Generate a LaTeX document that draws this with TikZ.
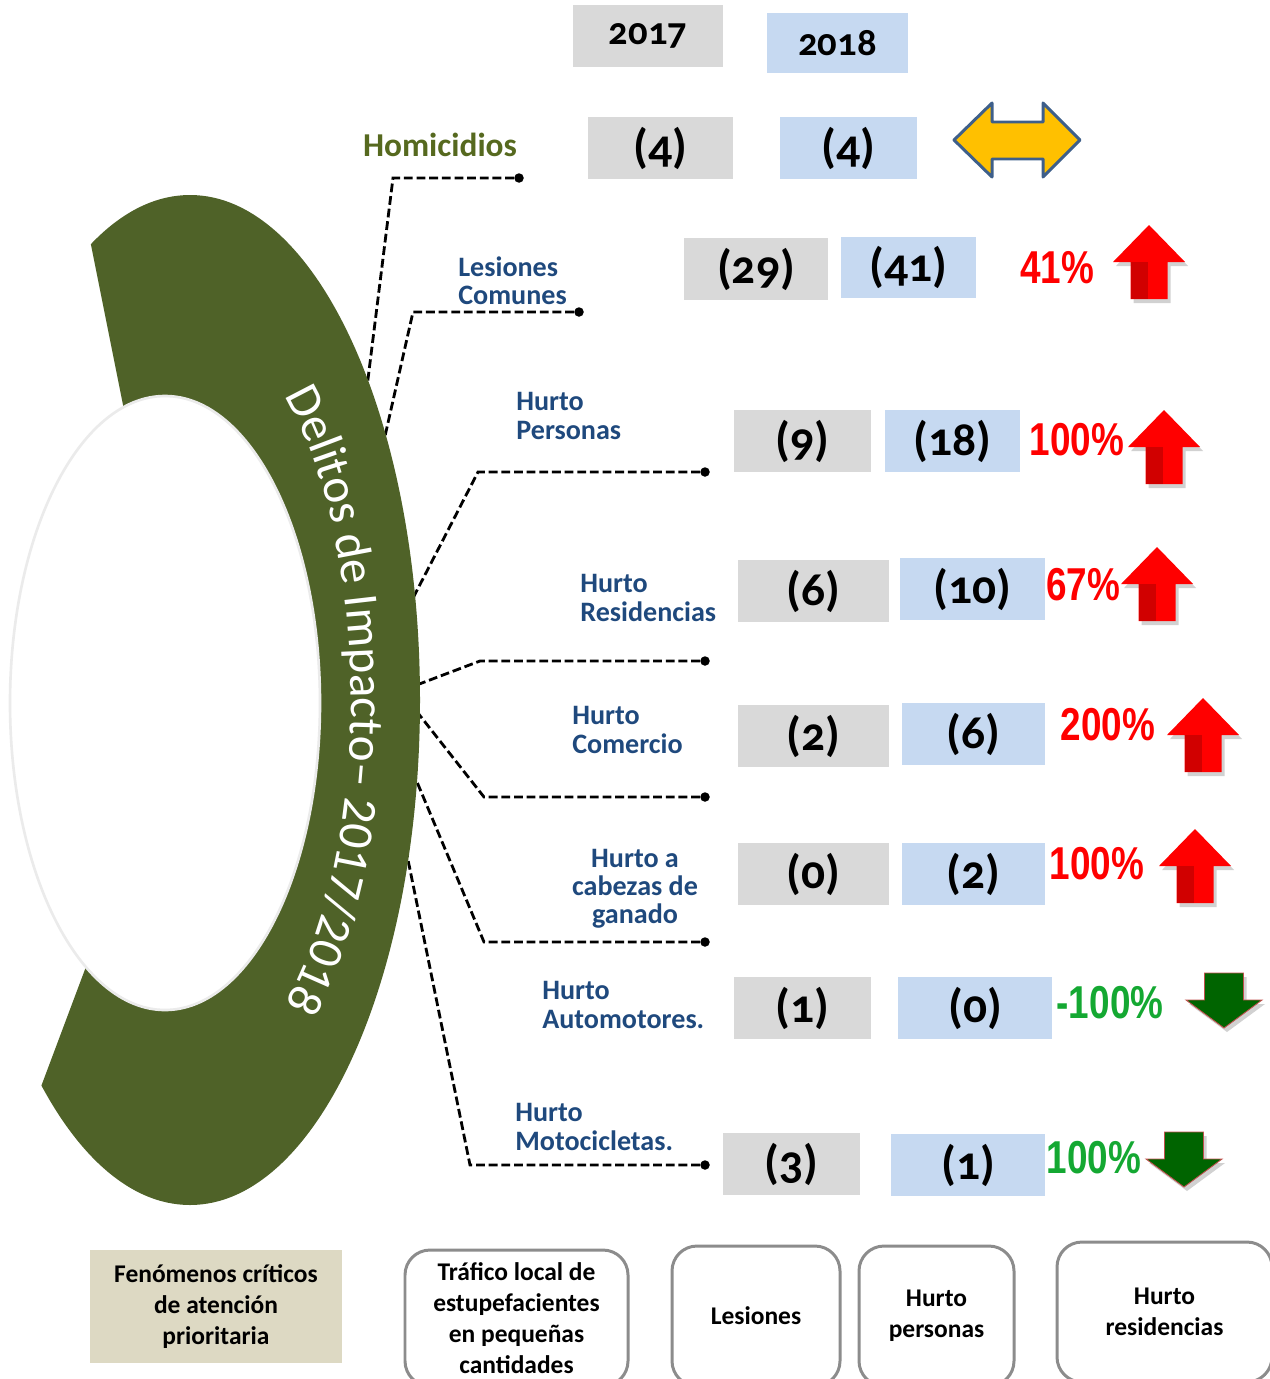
\documentclass[tikz,border=0pt]{standalone}
\usepackage{fontspec}
\usepackage{graphicx}
\setmainfont{Carlito}
\newfontfamily\oldnum[Numbers=OldStyle]{Carlito}
\newfontfamily\pctfont{Liberation Sans}
\usetikzlibrary{positioning}
\usetikzlibrary{decorations.text}

\definecolor{arcgreen}{HTML}{4F6228}
\definecolor{box17}{HTML}{D9D9D9}
\definecolor{box18}{HTML}{C6D9F1}
\definecolor{labelblue}{HTML}{1F497D}
\definecolor{homolive}{HTML}{56691F}
\definecolor{pctred}{HTML}{FF0000}
\definecolor{pctgreen}{HTML}{14A832}
\definecolor{downgreen}{HTML}{006400}
\definecolor{downline}{HTML}{C0504D}
\definecolor{tanbox}{HTML}{DDD9C3}
\definecolor{frameline}{HTML}{8C8C8C}
\definecolor{dblfill}{HTML}{FFC000}
\definecolor{dblline}{HTML}{3E5F8A}

\newcommand\tallpct[1]{\scalebox{1}[1.25]{#1}}

\tikzset{
  wd/.style={minimum width=#1*0.02cm},
  yr17/.style={fill=box17, minimum height=1.24cm, font=\oldnum\bfseries\fontsize{27}{27}\selectfont},
  yr18/.style={yr17, fill=box18},
  hd/.style={font=\oldnum\bfseries\fontsize{22}{22}\selectfont},
  lab/.style={text=labelblue, align=left, inner sep=0pt, font=\bfseries\fontsize{16}{16}\selectfont},
  up/.style={text=pctred, font=\pctfont\bfseries\fontsize{21}{21}\selectfont},
  down/.style={up, text=pctgreen},
  dot/.style={circle, fill=black, inner sep=0pt, minimum size=0.19cm},
  lead/.style={dash pattern=on 5pt off 2.2pt, line width=1.6pt},
  tbox/.style={fill=tanbox, align=center, font=\bfseries\fontsize{14.5}{17.6}\selectfont},
  rbox/.style={tbox, fill=none, draw=frameline, line width=1.7pt, rounded corners=0.5cm},
  dblarr/.style={fill=dblfill, draw=dblline, line width=1.7pt, line join=round},
  uparr/.pic={
    \fill[black, opacity=.18] (3,33) -- (39,-4) -- (21.5,-4) -- (21.5,-41) -- (-15.5,-41) -- (-15.5,-4) -- (-33,-4) -- cycle;
    \fill[pctred] (0,37) -- (36,0) -- (18.5,0) -- (18.5,-37) -- (-18.5,-37) -- (-18.5,0) -- (-36,0) -- cycle;
    \fill[red!82!black] (-18.5,0) -- (-1,0) -- (-1,-37) -- (-18.5,-37) -- cycle;
  },
  downarr/.pic={
    \fill[black, opacity=.18] (-16.5,23) -- (22.5,23) -- (22.5,-4) -- (41,-4) -- (3,-32) -- (-35,-4) -- (-16.5,-4) -- cycle;
    \filldraw[fill=downgreen, draw=downline, line width=0.5pt] (-19.5,27) -- (19.5,27) -- (19.5,0) -- (38,0) -- (0,-28) -- (-38,0) -- (-19.5,0) -- cycle;
  }
}

\begin{document}
\begin{tikzpicture}[x=0.02cm, y=0.02cm]
   \path[use as bounding box, clip] (0,0) rectangle (1270,-1379);

   % years
   \node[yr17, hd, wd=150] (h_1) at (648,-36) {2017};
   \node[yr18, hd, wd=141, minimum height=1.2cm] (h_2) at (837.5,-43) {2018};

   % labels
   \node[lab, text=homolive, font=\bfseries\fontsize{19}{19}\selectfont] (l_1) at (440,-145) {Homicidios};
   \node[lab, anchor=west] (l_2) at (458,-281) {Lesiones\\Comunes};
   \node[lab, anchor=west] (l_3) at (516,-416) {Hurto\\Personas};
   \node[lab, anchor=west] (l_4) at (580,-598) {Hurto\\Residencias};
   \node[lab, anchor=west] (l_5) at (572,-730) {Hurto\\Comercio};
   \node[lab, align=center] (l_6) at (635,-889) {Hurto a\\cabezas de\\ganado};
   \node[lab, anchor=west] (l_7) at (542,-1005) {Hurto\\Automotores.};
   \node[lab, anchor=west] (l_8) at (515,-1127) {Hurto\\Motocicletas.};

   % values 2017 / 2018
   \node[yr17, wd=145] (a_1) at (660.5,-148) {(4)};
   \node[yr18, wd=137] (b_1) at (848.5,-148) {(4)};
   \node[yr17, wd=144] (a_2) at (756,-269) {(29)};
   \node[yr18, wd=135] (b_2) at (908.5,-267.5) {(41)};
   \node[yr17, wd=137] (a_3) at (802.5,-441) {(9)};
   \node[yr18, wd=135] (b_3) at (952.5,-441) {(18)};
   \node[yr17, wd=151] (a_4) at (813.5,-591) {(6)};
   \node[yr18, wd=145] (b_4) at (972.5,-589) {(10)};
   \node[yr17, wd=151] (a_5) at (813.5,-736) {(2)};
   \node[yr18, wd=143] (b_5) at (973.5,-734) {(6)};
   \node[yr17, wd=151] (a_6) at (813.5,-874) {(0)};
   \node[yr18, wd=143] (b_6) at (973.5,-874) {(2)};
   \node[yr17, wd=137] (a_7) at (802.5,-1008) {(1)};
   \node[yr18, wd=154] (b_7) at (975,-1008) {(0)};
   \node[yr17, wd=137] (a_8) at (791.5,-1164) {(3)};
   \node[yr18, wd=154] (b_8) at (968,-1165) {(1)};

   % variation
   \draw[dblarr] (954,-140) -- (992,-103) -- (992,-122) -- (1043,-122) -- (1043,-103) -- (1080,-140)
      -- (1043,-177) -- (1043,-159) -- (992,-159) -- (992,-177) -- cycle;
   \node[up] (p_2) at (1057,-268) {\tallpct{41\%}};
   \node[up] (p_3) at (1077,-440) {\tallpct{100\%}};
   \node[up] (p_4) at (1083,-585) {\tallpct{67\%}};
   \node[up] (p_5) at (1108,-725) {\tallpct{200\%}};
   \node[up] (p_6) at (1097,-864) {\tallpct{100\%}};
   \node[down] (p_7) at (1110,-1003) {\tallpct{-100\%}};
   \node[down] (p_8) at (1094,-1158) {\tallpct{100\%}};
   \pic at (1149,-262) {uparr};
   \pic at (1164,-447) {uparr};
   \pic at (1157,-584) {uparr};
   \pic at (1203,-735) {uparr};
   \pic at (1195,-866) {uparr};
   \pic at (1224,-1000) {downarr};
   \pic at (1184,-1159) {downarr};

   % leaders
   \node[dot] (d_1) at (519,-178) {};
   \node[dot] (d_2) at (579,-312) {};
   \node[dot] (d_3) at (705,-472) {};
   \node[dot] (d_4) at (705,-661) {};
   \node[dot] (d_5) at (705,-797) {};
   \node[dot] (d_6) at (705,-942) {};
   \node[dot] (d_8) at (705,-1165) {};
   \coordinate (g_1) at (366,-395);
   \coordinate (g_2) at (383,-445);
   \coordinate (g_3) at (412,-600);
   \coordinate (g_4) at (414,-686);
   \coordinate (g_5) at (414,-708);
   \coordinate (g_6) at (412,-770);
   \coordinate (g_8) at (405,-845);
   \draw[lead] (d_1) -- ++(-126,0) -- (g_1);
   \draw[lead] (d_2) -- ++(-166,0) -- (g_2);
   \draw[lead] (d_3) -- ++(-227,0) -- (g_3);
   \draw[lead] (d_4) -- ++(-225,0) -- (g_4);
   \draw[lead] (d_5) -- ++(-221,0) -- (g_5);
   \draw[lead] (d_6) -- ++(-221,0) -- (g_6);
   \draw[lead] (d_8) -- ++(-235,0) -- (g_8);

   % arc
   \begin{scope}
     \clip (62,-100) -- (142,-500) -- (111,-900) -- (39,-1092) -- (0,-1196) -- (0,-1300)
        -- (500,-1300) -- (500,-100) -- cycle;
     \fill[arcgreen] (190,-700) ellipse [x radius=230, y radius=505];
   \end{scope}
   \filldraw[fill=white, draw=black!8, line width=1.5pt] (165,-703) ellipse [x radius=155, y radius=307];
   \path[decorate, decoration={text along path, text align=center, text color=white,
      text={|\fontsize{28}{28}\selectfont|Delitos de Impacto– 2017/2018}}]
      (183,-700) ++(58:168 and 382) arc[start angle=58, end angle=-58, x radius=168, y radius=382];

   % bottom row
   \node[tbox, wd=252, minimum height=2.26cm] (f_0) at (216,-1306.5) {Fenómenos críticos\\de atención\\prioritaria};
   \node[rbox, wd=223, minimum height=2.72cm] (f_1) at (516.5,-1318) {Tráfico local de\\estupefacientes\\en pequeñas\\cantidades};
   \node[rbox, wd=168, minimum height=2.8cm] (f_2) at (756,-1316) {Lesiones};
   \node[rbox, wd=155, minimum height=2.8cm] (f_3) at (936.5,-1316) {Hurto\\personas};
   \node[rbox, wd=215, minimum height=2.8cm] (f_4) at (1164.5,-1312) {Hurto\\residencias};
\end{tikzpicture}
\end{document}
